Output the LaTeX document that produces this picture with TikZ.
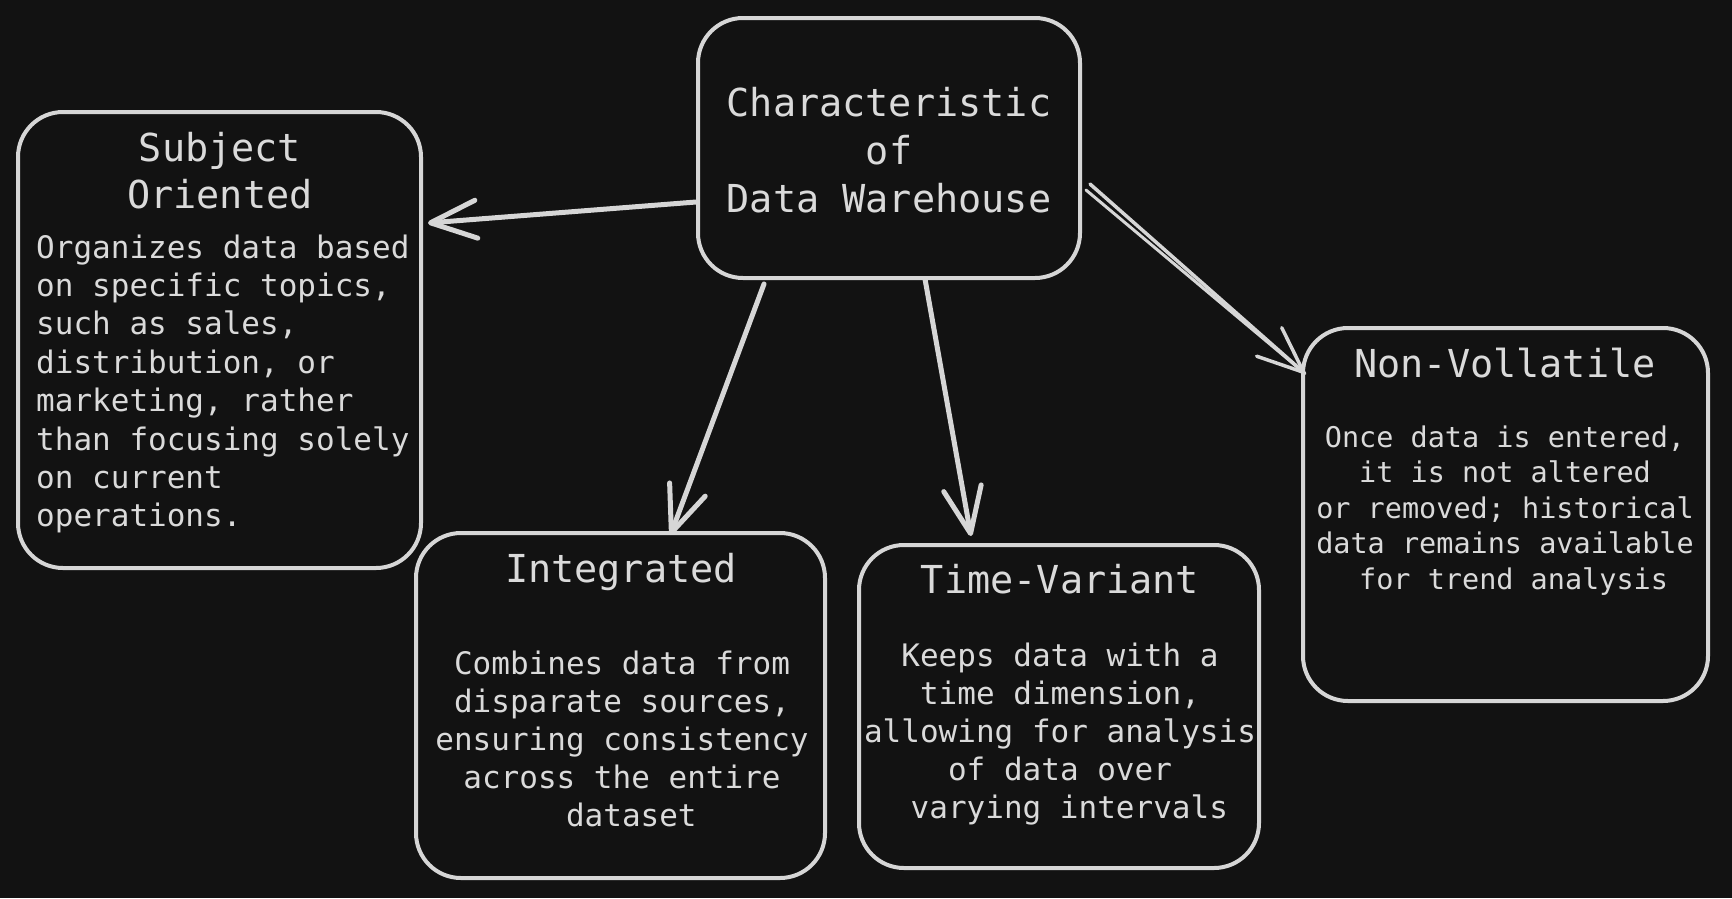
\documentclass[tikz,border=0pt]{standalone}
\usepackage{fontspec}
\usetikzlibrary{arrows.meta}
\newfontfamily\monof{DejaVu Sans Mono}
\definecolor{bg}{HTML}{121212}
\definecolor{fg}{HTML}{D6D6D6}
\definecolor{tx}{HTML}{DADADA}
\newcommand\mlines[2]{\begin{tabular}[t]{@{}#1@{}}#2\end{tabular}}
\begin{document}
\begin{tikzpicture}[x=1pt,y=-1pt,
  box/.style={draw=fg, line width=4pt, rounded corners=45pt, inner sep=0pt, fill=bg},
  ttl/.style={text=tx, font=\monof\fontsize{38.5}{48}\selectfont, anchor=base, inner sep=0pt},
  bodyc/.style={text=tx, font=\monof\fontsize{31}{38}\selectfont, anchor=base, inner sep=0pt},
  conn/.style={draw=fg, line width=5pt, line cap=round, -{Straight Barb[length=46pt,width=38pt,round]}},
  conn2/.style={draw=fg, line width=3pt, line cap=round}]
\fill[bg] (0,0) rectangle (1732,898);
\useasboundingbox (0,0) rectangle (1732,898);
% boxes
\node[box, minimum width=382pt, minimum height=260pt] (central) at (889,148) {};
\node[box, minimum width=403pt, minimum height=456pt] (subject) at (219.5,340) {};
\node[box, minimum width=409pt, minimum height=345pt] (integ) at (620.5,705.5) {};
\node[box, minimum width=400pt, minimum height=323pt] (timev) at (1059,706.5) {};
\node[box, minimum width=405pt, minimum height=373pt] (nonvol) at (1505.5,514.5) {};
% texts
\node[ttl] (centralT) at (889,116) {\mlines{c}{Characteristic\\of\\Data Warehouse}};
\node[ttl, font=\monof\fontsize{38.5}{47}\selectfont] (subjectT) at (220,161) {\mlines{c}{Subject\\Oriented}};
\node[bodyc, anchor=base west, font=\monof\fontsize{31}{38.4}\selectfont] (subjectB) at (36,258)
  {\mlines{l}{Organizes data based\\on specific topics,\\such as sales,\\distribution, or\\marketing, rather\\than focusing solely\\on current\\operations.}};
\node[ttl] (integT) at (621,582) {Integrated};
\node[bodyc] (integB) at (622,674)
  {\mlines{c}{Combines data from\\disparate sources,\\ensuring consistency\\across the entire\\\phantom{x}dataset}};
\node[ttl] (timevT) at (1060,593) {Time-Variant};
\node[bodyc] (timevB) at (1060,666)
  {\mlines{c}{Keeps data with a\\time dimension,\\allowing for analysis\\of data over\\\phantom{x}varying intervals}};
\node[ttl] (nonvolT) at (1505,377) {Non-Vollatile};
\node[bodyc, font=\monof\fontsize{28.5}{35.5}\selectfont] (nonvolB) at (1505,447)
  {\mlines{c}{Once data is entered,\\it is not altered\\or removed; historical\\data remains available\\\phantom{x}for trend analysis}};
% connectors
\draw[conn] ([yshift=-54pt]central.west) -- ([xshift=5pt,yshift=117pt]subject.east);
\draw[conn] ([xshift=-125pt,yshift=-4pt]central.south) -- ([xshift=50pt,yshift=-4pt]integ.north);
\draw[conn] ([xshift=36pt,yshift=1pt]central.south) -- ([xshift=-88pt,yshift=7pt]timev.north);
\draw[conn2] ([xshift=4pt,yshift=-42pt]central.east) -- ([xshift=4pt,yshift=141pt]nonvol.west);
\draw[conn, line width=3.5pt] ([xshift=8pt,yshift=-36pt]central.east) -- ([xshift=4pt,yshift=141pt]nonvol.west);
\end{tikzpicture}
\end{document}
